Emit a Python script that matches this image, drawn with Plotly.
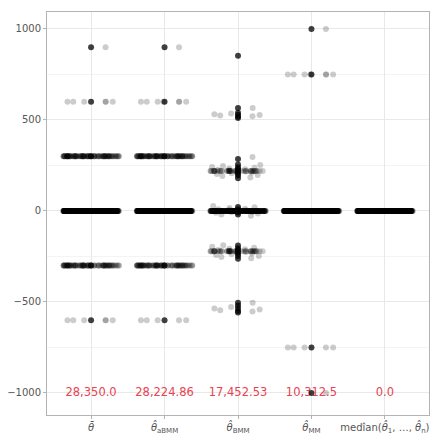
import plotly.graph_objects as go

# Categories and labels ##########################################################
categories = ['theta_bar', 'theta_abmm', 'theta_bmm', 'theta_mm', 'theta_median']
tick_labels = [
    '<i>θ̄</i>',
    '<i>θ̂</i><sub>aBMM</sub>',
    '<i>θ̂</i><sub>BMM</sub>',
    '<i>θ̂</i><sub>MM</sub>',
    'medîan(<i>θ̂</i><sub>1</sub>, …, <i>θ̂</i><sub>n</sub>)',
]
totals = ['28,350.0', '28,224.86', '17,452.53', '10,312.5', '0.0']
total_y = -1000

# Estimates that fall on a few repeated values: level + number of replicates
theta_bar_levels = [900, 600, 300, 0, -300, -600]
theta_bar_counts = [1, 6, 100, 400, 85, 6]

abmm_levels = [900, 600, 300, 0, -300, -600]
abmm_counts = [1, 7, 100, 400, 85, 5]

mm_levels = [1000, 750, 0, -750, -1000]
mm_counts = [1, 7, 400, 5, 1]

median_levels = [0]
median_counts = [400]

# BMM estimates are spread out around each level
bmm_center = [852, 566, 540, 528, 518, 511, 286, 255, 240, 230, 222, 215, 205,
              195, 180, 22, 10, 0, -8, -20, -190, -205, -215, -225, -235, -248,
              -262, -505, -520, -535, -550, -558]
bmm_high = [566, 536, 531, 527, 524, 520]
bmm_mid = [297]
bmm_pos_core, bmm_pos_count = 220, 45
bmm_pos = [184, 192, 198, 203, 207, 211, 214, 217, 223, 226, 229, 233, 237,
           242, 247, 253]
bmm_zero_core, bmm_zero_count = 0, 250
bmm_zero = [-26, -19, -14, -10, -7, -4, -2, 3, 6, 9, 12, 16, 21, 27]
bmm_neg_core, bmm_neg_count = -222, 45
bmm_neg = [-188, -196, -202, -207, -211, -215, -218, -226, -229, -233, -237,
           -242, -247, -253, -260]
bmm_low = [-505, -528, -536, -541, -545, -552]


# Helpers ########################################################################
def jitter_trace(cat, values):
    # invisible box, only the jittered points are shown
    return go.Box(
        x=[cat] * len(values),
        y=values,
        boxpoints='all',
        jitter=1,
        pointpos=0,
        width=0.76,
        fillcolor='rgba(0,0,0,0)',
        line=dict(color='rgba(0,0,0,0)', width=0),
        marker=dict(color='rgba(0,0,0,0.2)', size=6, line=dict(width=0)),
        hoverinfo='skip',
        showlegend=False
    )


def center_trace(cat, values):
    return go.Scatter(
        x=[cat] * len(values),
        y=values,
        mode='markers',
        marker=dict(color='rgba(0,0,0,0.75)', size=6, line=dict(width=0)),
        hoverinfo='skip',
        showlegend=False
    )


fig = go.Figure()

# summary numbers sit behind the points
fig.add_trace(go.Scatter(
    x=categories,
    y=[total_y] * len(categories),
    mode='text',
    text=totals,
    textfont=dict(family='DejaVu Sans', size=11.5, color='#e8434f'),
    hoverinfo='skip',
    showlegend=False
))

level_data = [
    (categories[0], theta_bar_levels, theta_bar_counts),
    (categories[1], abmm_levels, abmm_counts),
    (categories[3], mm_levels, mm_counts),
    (categories[4], median_levels, median_counts),
]
for cat, levels, counts in level_data:
    for level, n in zip(levels, counts):
        fig.add_trace(jitter_trace(cat, [level] * n))

bmm = categories[2]
bmm_groups = [
    bmm_high, bmm_mid,
    [bmm_pos_core] * bmm_pos_count, bmm_pos,
    [bmm_zero_core] * bmm_zero_count, bmm_zero,
    [bmm_neg_core] * bmm_neg_count, bmm_neg,
    bmm_low,
]
for group in bmm_groups:
    fig.add_trace(jitter_trace(bmm, group))

for cat, levels, counts in level_data:
    fig.add_trace(center_trace(cat, levels))
fig.add_trace(center_trace(bmm, bmm_center))

# Layout #########################################################################
fig.update_layout(
    width=441,
    height=443,
    margin=dict(l=47, r=12, t=12, b=28),
    plot_bgcolor='white',
    paper_bgcolor='white',
    font=dict(family='DejaVu Sans', size=10, color='#555555'),
    boxmode='overlay',
    hovermode=False,
    xaxis=dict(
        type='category',
        categoryorder='array',
        categoryarray=categories,
        tickvals=categories,
        ticktext=tick_labels,
        range=[-0.6, 4.6],
        automargin=False,
        showgrid=True,
        gridcolor='#e8e8e8',
        gridwidth=1,
        showline=True,
        mirror=True,
        linecolor='#b3b3b3',
        linewidth=1,
        ticks='outside',
        ticklen=3,
        tickcolor='#b3b3b3',
        zeroline=False
    ),
    yaxis=dict(
        range=[-1121, 1093],
        tickvals=[-1000, -500, 0, 500, 1000],
        automargin=False,
        showgrid=True,
        gridcolor='#e8e8e8',
        gridwidth=1,
        minor=dict(tickvals=[-750, -250, 250, 750], showgrid=True,
                   gridcolor='#f4f4f4', gridwidth=1),
        showline=True,
        mirror=True,
        linecolor='#b3b3b3',
        linewidth=1,
        ticks='outside',
        ticklen=3,
        tickcolor='#b3b3b3',
        zeroline=False
    )
)

# page body has a default 8px margin; drop it so the figure fills the window
fig.write_html(
    "out.html",
    config={'displayModeBar': False},
    post_script="document.body.style.margin = '0';"
)
